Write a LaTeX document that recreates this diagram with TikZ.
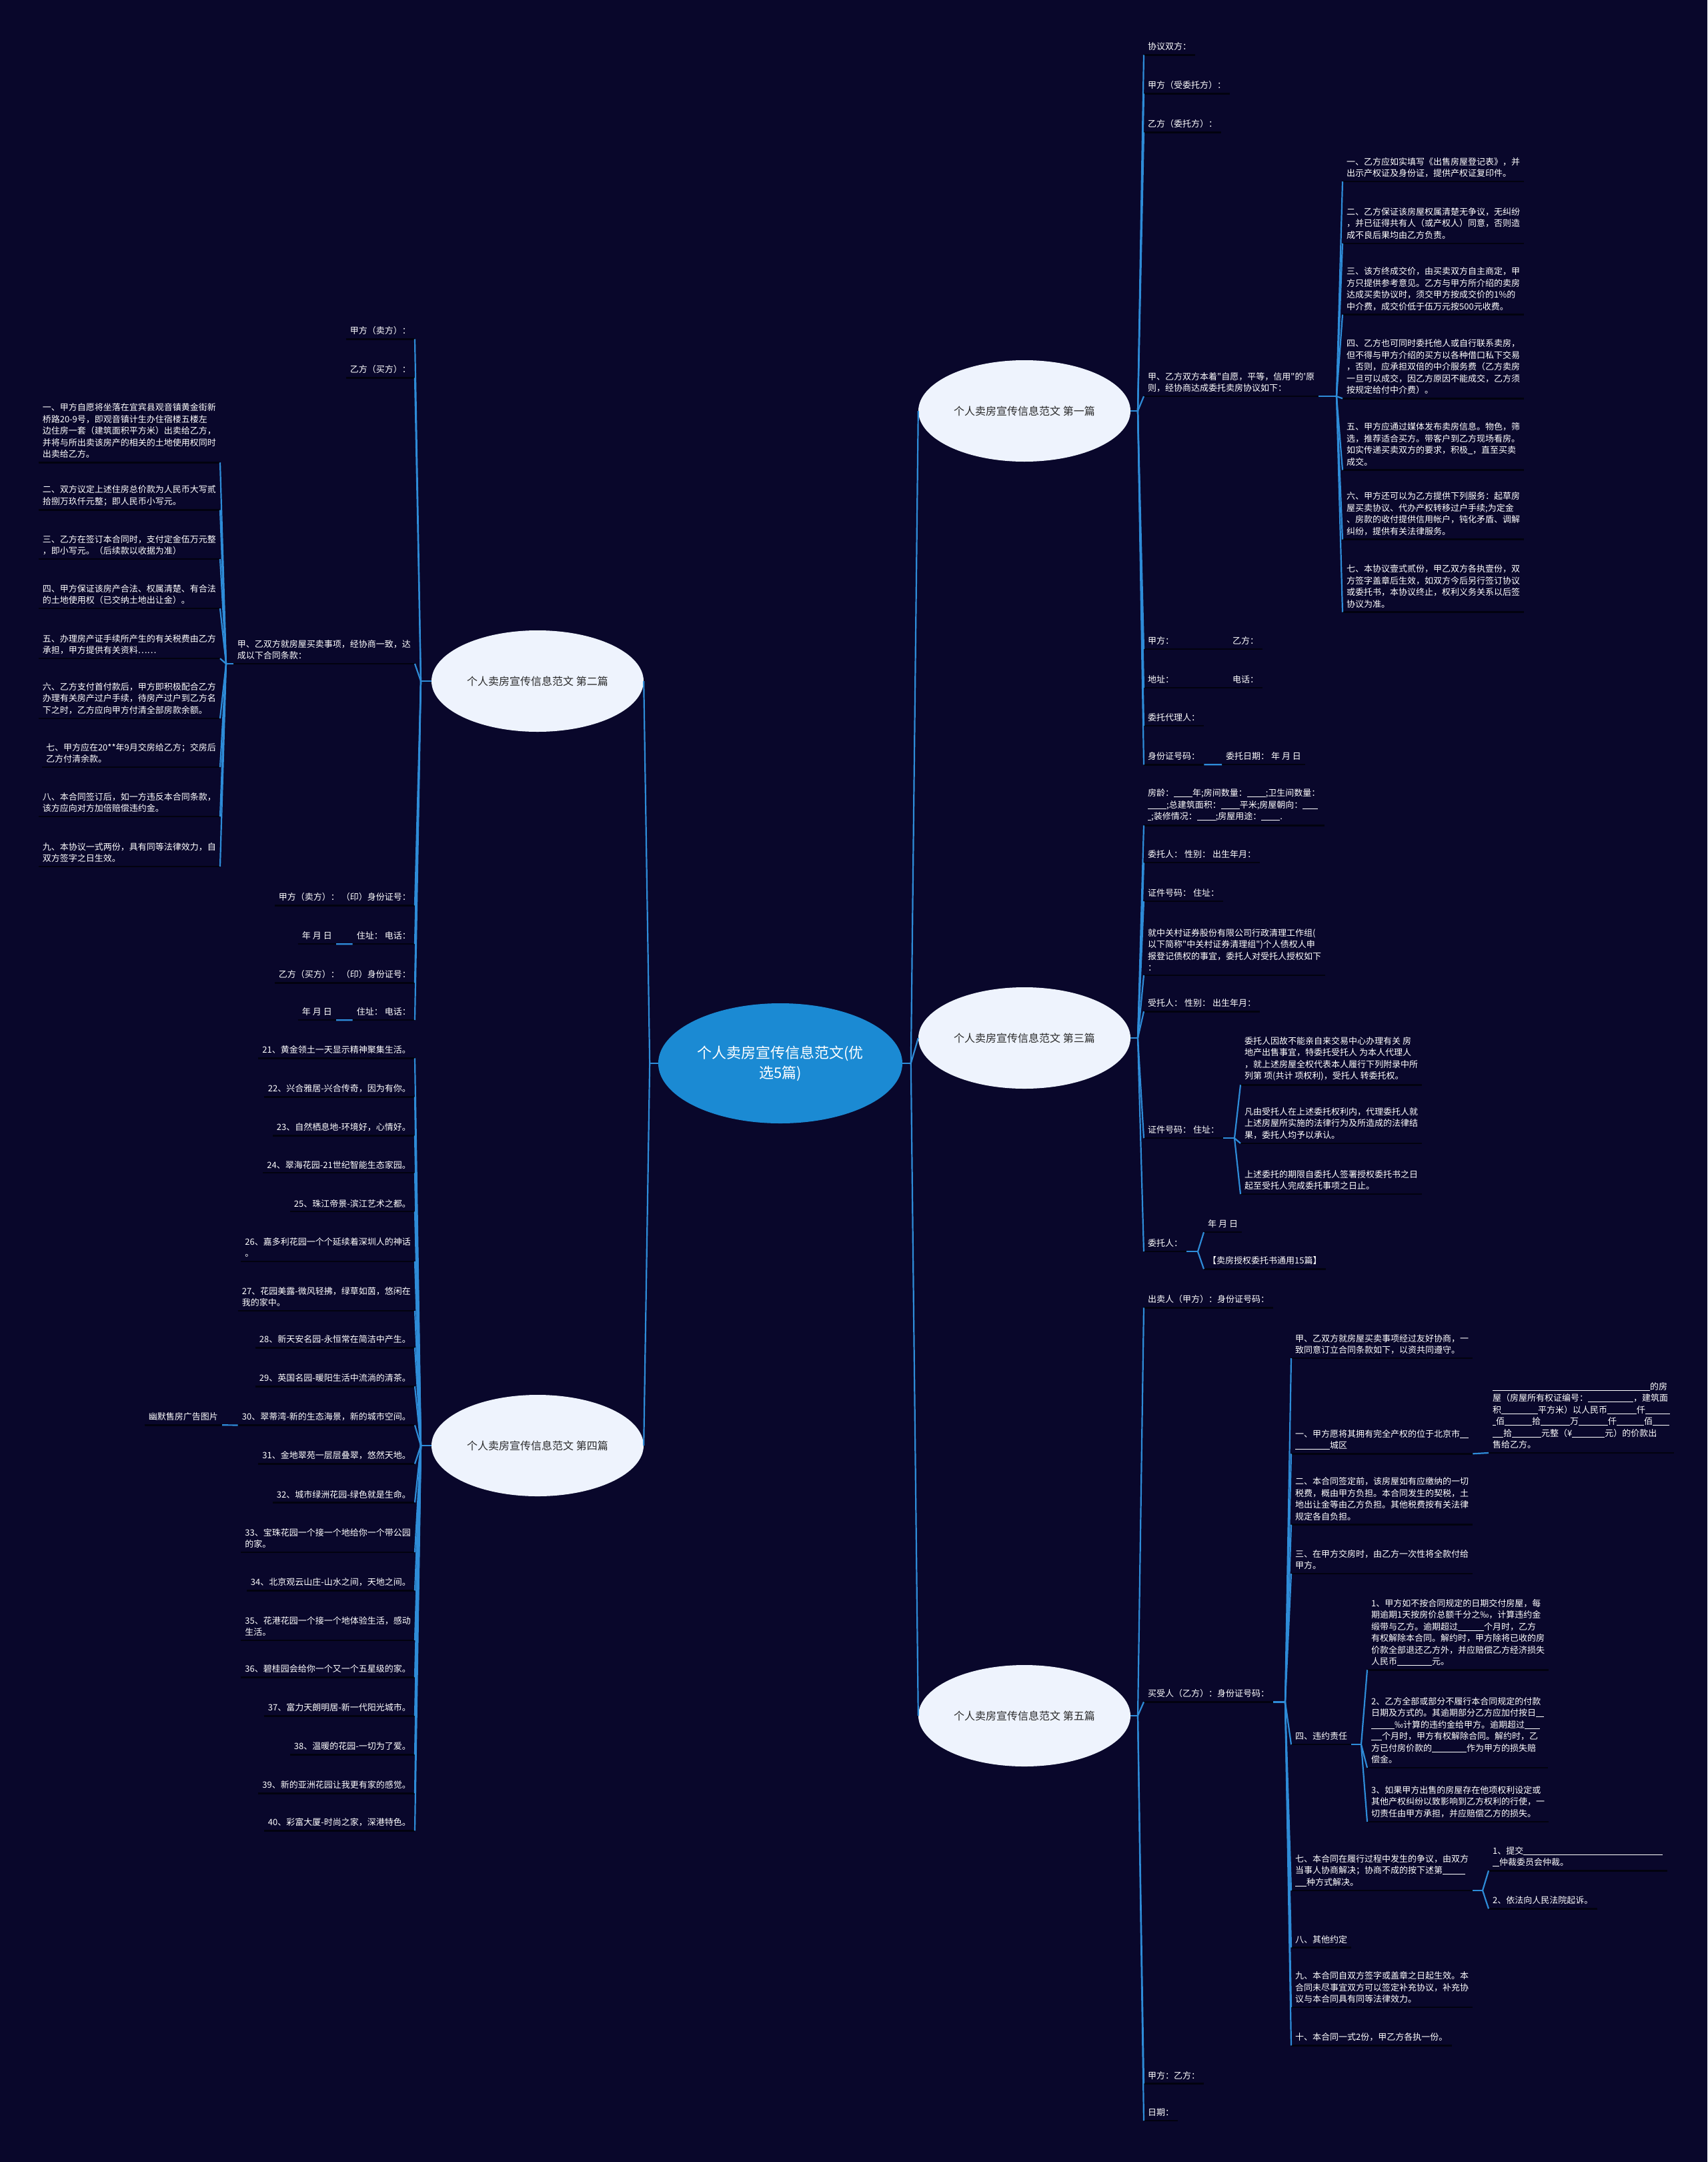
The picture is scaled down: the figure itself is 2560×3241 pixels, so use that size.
\documentclass[tikz,border=0pt]{standalone}
\usepackage{fontspec}
\newfontfamily\cjk{Noto Sans CJK SC}
\usepackage{xcolor}
\usepackage{tikz}
\usetikzlibrary{shapes.geometric,calc}
\definecolor{bgnavy}{HTML}{09072B}
\definecolor{rootblue}{HTML}{1B8AD3}
\definecolor{topicfill}{HTML}{EEF3FD}
\definecolor{topictext}{HTML}{2B2B2B}
\definecolor{linkblue}{HTML}{2E8CD8}
\definecolor{ulinecol}{HTML}{02020F}
\newcommand{\fillin}[1]{\rule[-1.5pt]{#1pt}{0.8pt}}

\begin{document}
\begin{tikzpicture}[x=1pt, y=-1pt,
  rootnode/.style={ellipse, fill=rootblue, text=white, align=center, inner sep=0pt, minimum width=366pt, minimum height=180pt, font=\cjk\fontsize{22}{30}\selectfont},
  topicnode/.style={ellipse, fill=topicfill, text=topictext, inner sep=0pt, minimum width=318pt, minimum height=152pt, font=\cjk\fontsize{16}{20}\selectfont},
  uline/.style={draw=ulinecol, line width=2.5pt},
  leafnode/.style={text=white, align=left, inner xsep=6pt, inner ysep=6pt, font=\cjk\fontsize{13}{17.5}\selectfont,
    append after command={(\tikzlastnode.south west) edge[uline] (\tikzlastnode.south east)}},
  rleaf/.style={leafnode, anchor=west},
  lleaf/.style={leafnode, anchor=east},
  conn/.style={draw=linkblue, line width=2.2pt}
]

\fill[bgnavy] (0,0) rectangle (2560,3241);

\node[rootnode] (root) at (1170,1594) {个人卖房宣传信息范文(优\\选5篇)};

\node[topicnode] (t1) at (1536,616) {个人卖房宣传信息范文 第一篇};
\node[topicnode] (t2) at (806,1021) {个人卖房宣传信息范文 第二篇};
\node[topicnode] (t3) at (1536,1556) {个人卖房宣传信息范文 第三篇};
\node[topicnode] (t4) at (806,2167) {个人卖房宣传信息范文 第四篇};
\node[topicnode] (t5) at (1536,2572) {个人卖房宣传信息范文 第五篇};

\node[rleaf] (t1a) at (1715,70) {协议双方：};
\node[rleaf] (t1b) at (1715,128) {甲方（受委托方）：};
\node[rleaf] (t1c) at (1715,186) {乙方（委托方）：};
\node[rleaf] (t1d) at (1715,573) {甲、乙方双方本着"自愿，平等，信用"的'原\\则，经协商达成委托卖房协议如下：};
\node[rleaf] (t1e) at (1715,961) {甲方：\hspace{88pt}乙方：};
\node[rleaf] (t1f) at (1715,1019) {地址：\hspace{88pt}电话：};
\node[rleaf] (t1g) at (1715,1076) {委托代理人：};
\node[rleaf] (t1h) at (1715,1134) {身份证号码：};
\node[rleaf] (t1h1) at (1832,1134) {委托日期：\ 年\ 月\ 日};

\node[rleaf] (t1d1) at (2013,251) {一、乙方应如实填写《出售房屋登记表》，并\\出示产权证及身份证，提供产权证复印件。};
\node[rleaf] (t1d2) at (2013,335) {二、乙方保证该房屋权属清楚无争议，无纠纷\\，并已征得共有人（或产权人）同意，否则造\\成不良后果均由乙方负责。};
\node[rleaf] (t1d3) at (2013,433) {三、该方终成交价，由买卖双方自主商定，甲\\方只提供参考意见。乙方与甲方所介绍的卖房\\达成买卖协议时，须交甲方按成交价的1\%的\\中介费，成交价低于伍万元按500元收费。};
\node[rleaf] (t1d4) at (2013,550) {四、乙方也可同时委托他人或自行联系卖房，\\但不得与甲方介绍的买方以各种借口私下交易\\，否则，应承担双倍的中介服务费（乙方卖房\\一旦可以成交，因乙方原因不能成交，乙方须\\按规定给付中介费）。};
\node[rleaf] (t1d5) at (2013,666) {五、甲方应通过媒体发布卖房信息。物色，筛\\选，推荐适合买方。带客户到乙方现场看房。\\如实传递买卖双方的要求，积极\fillin{7}，直至买卖\\成交。};
\node[rleaf] (t1d6) at (2013,770) {六、甲方还可以为乙方提供下列服务：起草房\\屋买卖协议、代办产权转移过户手续;为定金\\、房款的收付提供信用帐户，钝化矛盾、调解\\纠纷，提供有关法律服务。};
\node[rleaf] (t1d7) at (2013,879) {七、本协议壹式贰份，甲乙双方各执壹份，双\\方签字盖章后生效，如双方今后另行签订协议\\或委托书，本协议终止，权利义务关系以后签\\协议为准。};

\node[rleaf] (t3a) at (1715,1207) {房龄：\fillin{28}年;房间数量：\fillin{28};卫生间数量：\\\fillin{28};总建筑面积：\fillin{28}平米;房屋朝向：\fillin{23}\\\fillin{5};装修情况：\fillin{28};房屋用途：\fillin{28}.};
\node[rleaf] (t3b) at (1715,1281) {委托人：\ 性别：\ 出生年月：};
\node[rleaf] (t3c) at (1715,1339) {证件号码：\ 住址：};
\node[rleaf] (t3d) at (1715,1424) {就中关村证券股份有限公司行政清理工作组(\\以下简称"中关村证券清理组")个人债权人申\\报登记债权的事宜，委托人对受托人授权如下\\：};
\node[rleaf] (t3e) at (1715,1504) {受托人：\ 性别：\ 出生年月：};
\node[rleaf] (t3f) at (1715,1694) {证件号码：\ 住址：};
\node[rleaf] (t3g) at (1715,1864) {委托人：};

\node[rleaf] (t3f1) at (1860,1587) {委托人因故不能亲自来交易中心办理有关 房\\地产出售事宜，特委托受托人 为本人代理人\\，就上述房屋全权代表本人履行下列附录中所\\列第 项(共计 项权利)，受托人 转委托权。};
\node[rleaf] (t3f2) at (1860,1684) {凡由受托人在上述委托权利内，代理委托人就\\上述房屋所实施的法律行为及所造成的法律结\\果，委托人均予以承认。};
\node[rleaf] (t3f3) at (1860,1769) {上述委托的期限自委托人签署授权委托书之日\\起至受托人完成委托事项之日止。};
\node[rleaf] (t3g1) at (1805,1835) {年\ 月\ 日};
\node[rleaf] (t3g2) at (1805,1890) {【卖房授权委托书通用15篇】};

\node[rleaf] (t5a) at (1715,1948) {出卖人（甲方）：身份证号码：};
\node[rleaf] (t5b) at (1715,2539) {买受人（乙方）：身份证号码：};
\node[rleaf] (t5c) at (1715,3111) {甲方：乙方：};
\node[rleaf] (t5d) at (1715,3167) {日期：};

\node[rleaf] (t5b1) at (1936,2015) {甲、乙双方就房屋买卖事项经过友好协商，一\\致同意订立合同条款如下，以资共同遵守。};
\node[rleaf] (t5b2) at (1936,2158) {一、甲方愿将其拥有完全产权的位于北京市\fillin{13}\\\fillin{52}城区};
\node[rleaf] (t5b2a) at (2232,2122) {\fillin{236}的房\\屋（房屋所有权证编号：\fillin{68}，建筑面\\积\fillin{55}平方米）以人民币\fillin{44}仟\fillin{37}\\\fillin{5}佰\fillin{41}拾\fillin{44}万\fillin{44}仟\fillin{41}佰\fillin{25}\\\fillin{16}拾\fillin{44}元整（¥\fillin{49}元）的价款出\\售给乙方。};
\node[rleaf] (t5b3) at (1936,2247) {二、本合同签定前，该房屋如有应缴纳的一切\\税费，概由甲方负担。本合同发生的契税，土\\地出让金等由乙方负担。其他税费按有关法律\\规定各自负担。};
\node[rleaf] (t5b4) at (1936,2338) {三、在甲方交房时，由乙方一次性将全款付给\\甲方。};
\node[rleaf] (t5b5) at (1936,2603) {四、违约责任};
\node[rleaf] (t5b6) at (1936,2804) {七、本合同在履行过程中发生的争议，由双方\\当事人协商解决；协商不成的按下述第\fillin{34}\\\fillin{17}种方式解决。};
\node[rleaf] (t5b7) at (1936,2907) {八、其他约定};
\node[rleaf] (t5b8) at (1936,2979) {九、本合同自双方签字或盖章之日起生效。本\\合同未尽事宜双方可以签定补充协议，补充协\\议与本合同具有同等法律效力。};
\node[rleaf] (t5b9) at (1936,3054) {十、本合同一式2份，甲乙方各执一份。};

\node[rleaf] (t5b5a) at (2050,2447) {1、甲方如不按合同规定的日期交付房屋，每\\期逾期1天按房价总额千分之‰，计算违约金\\缎带与乙方。逾期超过\fillin{39}个月时，乙方\\有权解除本合同。解约时，甲方除将已收的房\\价款全部退还乙方外，并应赔偿乙方经济损失\\人民币\fillin{52}元。};
\node[rleaf] (t5b5b) at (2050,2594) {2、乙方全部或部分不履行本合同规定的付款\\日期及方式的。其逾期部分乙方应加付按日\fillin{12}\\\fillin{35}‰计算的违约金给甲方。逾期超过\fillin{23}\\\fillin{16}个月时，甲方有权解除合同。解约时，乙\\方已付房价款的\fillin{52}作为甲方的损失赔\\偿金。};
\node[rleaf] (t5b5c) at (2050,2701) {3、如果甲方出售的房屋存在他项权利设定或\\其他产权纠纷以致影响到乙方权利的行使，一\\切责任由甲方承担，并应赔偿乙方的损失。};
\node[rleaf] (t5b6a) at (2232,2783) {1、提交\fillin{209}\\\fillin{10}仲裁委员会仲裁。};
\node[rleaf] (t5b6b) at (2232,2849) {2、依法向人民法院起诉。};

\node[lleaf] (t2a) at (622,496) {甲方（卖方）：};
\node[lleaf] (t2b) at (622,554) {乙方（买方）：};
\node[lleaf] (t2c) at (622,974) {甲、乙双方就房屋买卖事项，经协商一致，达\\成以下合同条款：};
\node[lleaf] (t2d) at (622,1345) {甲方（卖方）：\ （印）身份证号：};
\node[lleaf] (t2e) at (622,1403) {住址：\ 电话：};
\node[lleaf] (t2e1) at (504,1403) {年\ 月\ 日};
\node[lleaf] (t2f) at (622,1461) {乙方（买方）：\ （印）身份证号：};
\node[lleaf] (t2g) at (622,1517) {住址：\ 电话：};
\node[lleaf] (t2g1) at (504,1517) {年\ 月\ 日};

\node[lleaf] (t2c1) at (330,646) {一、甲方自愿将坐落在宜宾县观音镇黄金街新\\桥路20-9号，即观音镇计生办住宿楼五楼左\\边住房一套（建筑面积平方米）出卖给乙方，\\并将与所出卖该房产的相关的土地使用权同时\\出卖给乙方。};
\node[lleaf] (t2c2) at (330,743) {二、双方议定上述住房总价款为人民币大写贰\\拾捌万玖仟元整；即人民币小写元。};
\node[lleaf] (t2c3) at (330,817) {三、乙方在签订本合同时，支付定金伍万元整\\，即小写元。（后续款以收据为准）};
\node[lleaf] (t2c4) at (330,891) {四、甲方保证该房产合法、权属清楚、有合法\\的土地使用权（已交纳土地出让金）。};
\node[lleaf] (t2c5) at (330,966) {五、办理房产证手续所产生的有关税费由乙方\\承担，甲方提供有关资料……};
\node[lleaf] (t2c6) at (330,1047) {六、乙方支付首付款后，甲方即积极配合乙方\\办理有关房产过户手续，待房产过户到乙方名\\下之时，乙方应向甲方付清全部房款余额。};
\node[lleaf] (t2c7) at (330,1129) {七、甲方应在20**年9月交房给乙方；交房后\\乙方付清余款。};
\node[lleaf] (t2c8) at (330,1203) {八、本合同签订后，如一方违反本合同条款，\\该方应向对方加倍赔偿违约金。};
\node[lleaf] (t2c9) at (330,1278) {九、本协议一式两份，具有同等法律效力，自\\双方签字之日生效。};

\node[lleaf] (t4a) at (622,1574) {21、黄金领土一天显示精神聚集生活。};
\node[lleaf] (t4b) at (622,1632) {22、兴合雅居-兴合传奇，因为有你。};
\node[lleaf] (t4c) at (622,1690) {23、自然栖息地-环境好，心情好。};
\node[lleaf] (t4d) at (622,1746) {24、翠海花园-21世纪智能生态家园。};
\node[lleaf] (t4e) at (622,1804) {25、珠江帝景-滨江艺术之都。};
\node[lleaf] (t4f) at (622,1870) {26、嘉多利花园一个个延续着深圳人的神话\\。};
\node[lleaf] (t4g) at (622,1944) {27、花园美露-微风轻拂，绿草如茵，悠闲在\\我的家中。};
\node[lleaf] (t4h) at (622,2008) {28、新天安名园-永恒常在简洁中产生。};
\node[lleaf] (t4i) at (622,2066) {29、英国名园-暖阳生活中流淌的清茶。};
\node[lleaf] (t4j) at (622,2124) {30、翠蒂湾-新的生态海景，新的城市空间。};
\node[lleaf] (t4j1) at (333,2124) {幽默售房广告图片};
\node[lleaf] (t4k) at (622,2182) {31、金地翠苑一层层叠翠，悠然天地。};
\node[lleaf] (t4l) at (622,2240) {32、城市绿洲花园-绿色就是生命。};
\node[lleaf] (t4m) at (622,2306) {33、宝珠花园一个接一个地给你一个带公园\\的家。};
\node[lleaf] (t4n) at (622,2372) {34、北京观云山庄-山水之间，天地之间。};
\node[lleaf] (t4o) at (622,2438) {35、花港花园一个接一个地体验生活，感动\\生活。};
\node[lleaf] (t4p) at (622,2502) {36、碧桂园会给你一个又一个五星级的家。};
\node[lleaf] (t4q) at (622,2560) {37、富力天朗明居-新一代阳光城市。};
\node[lleaf] (t4r) at (622,2618) {38、温暖的花园-一切为了爱。};
\node[lleaf] (t4s) at (622,2676) {39、新的亚洲花园让我更有家的感觉。};
\node[lleaf] (t4t) at (622,2732) {40、彩富大厦-时尚之家，深港特色。};

\coordinate (rj) at ($(t1.west |- root.east)+(-11,0)$);
\coordinate (lj) at ($(t2.east |- root.west)+(9,0)$);
\draw[conn] (root.east) -- (rj);
\draw[conn] (rj) -- (t1.west);
\draw[conn] (rj) -- (t3.west);
\draw[conn] (rj) -- (t5.west);
\draw[conn] (root.west) -- (lj);
\draw[conn] (lj) -- (t2.east);
\draw[conn] (lj) -- (t4.east);

\coordinate (t1j) at ($(t1a.west |- t1.east)+(-9,0)$);
\draw[conn] (t1.east) -- (t1j);
\draw[conn] (t1j) -- (t1a.south west);
\draw[conn] (t1j) -- (t1b.south west);
\draw[conn] (t1j) -- (t1c.south west);
\draw[conn] (t1j) -- (t1d.south west);
\draw[conn] (t1j) -- (t1e.south west);
\draw[conn] (t1j) -- (t1f.south west);
\draw[conn] (t1j) -- (t1g.south west);
\draw[conn] (t1j) -- (t1h.south west);
\draw[conn] (t1h.south east) -- (t1h1.south west);
\coordinate (t1dj) at ($(t1d1.west |- t1d.south east)+(-9,0)$);
\draw[conn] (t1d.south east) -- (t1dj);
\draw[conn] (t1dj) -- (t1d1.south west);
\draw[conn] (t1dj) -- (t1d2.south west);
\draw[conn] (t1dj) -- (t1d3.south west);
\draw[conn] (t1dj) -- (t1d4.south west);
\draw[conn] (t1dj) -- (t1d5.south west);
\draw[conn] (t1dj) -- (t1d6.south west);
\draw[conn] (t1dj) -- (t1d7.south west);

\coordinate (t3j) at ($(t3a.west |- t3.east)+(-9,0)$);
\draw[conn] (t3.east) -- (t3j);
\draw[conn] (t3j) -- (t3a.south west);
\draw[conn] (t3j) -- (t3b.south west);
\draw[conn] (t3j) -- (t3c.south west);
\draw[conn] (t3j) -- (t3d.south west);
\draw[conn] (t3j) -- (t3e.south west);
\draw[conn] (t3j) -- (t3f.south west);
\draw[conn] (t3j) -- (t3g.south west);
\coordinate (t3fj) at ($(t3f1.west |- t3f.south east)+(-9,0)$);
\draw[conn] (t3f.south east) -- (t3fj);
\draw[conn] (t3fj) -- (t3f1.south west);
\draw[conn] (t3fj) -- (t3f2.south west);
\draw[conn] (t3fj) -- (t3f3.south west);
\coordinate (t3gj) at ($(t3g1.west |- t3g.south east)+(-9,0)$);
\draw[conn] (t3g.south east) -- (t3gj);
\draw[conn] (t3gj) -- (t3g1.south west);
\draw[conn] (t3gj) -- (t3g2.south west);

\coordinate (t5j) at ($(t5a.west |- t5.east)+(-9,0)$);
\draw[conn] (t5.east) -- (t5j);
\draw[conn] (t5j) -- (t5a.south west);
\draw[conn] (t5j) -- (t5b.south west);
\draw[conn] (t5j) -- (t5c.south west);
\draw[conn] (t5j) -- (t5d.south west);
\coordinate (t5bj) at ($(t5b1.west |- t5b.south east)+(-9,0)$);
\draw[conn] (t5b.south east) -- (t5bj);
\draw[conn] (t5bj) -- (t5b1.south west);
\draw[conn] (t5bj) -- (t5b2.south west);
\draw[conn] (t5bj) -- (t5b3.south west);
\draw[conn] (t5bj) -- (t5b4.south west);
\draw[conn] (t5bj) -- (t5b5.south west);
\draw[conn] (t5bj) -- (t5b6.south west);
\draw[conn] (t5bj) -- (t5b7.south west);
\draw[conn] (t5bj) -- (t5b8.south west);
\draw[conn] (t5bj) -- (t5b9.south west);
\draw[conn] (t5b2.south east) -- (t5b2a.south west);
\coordinate (t5b5j) at ($(t5b5a.west |- t5b5.south east)+(-9,0)$);
\draw[conn] (t5b5.south east) -- (t5b5j);
\draw[conn] (t5b5j) -- (t5b5a.south west);
\draw[conn] (t5b5j) -- (t5b5b.south west);
\draw[conn] (t5b5j) -- (t5b5c.south west);
\coordinate (t5b6j) at ($(t5b6a.west |- t5b6.south east)+(-9,0)$);
\draw[conn] (t5b6.south east) -- (t5b6j);
\draw[conn] (t5b6j) -- (t5b6a.south west);
\draw[conn] (t5b6j) -- (t5b6b.south west);

\coordinate (t2j) at ($(t2a.east |- t2.west)+(9,0)$);
\draw[conn] (t2.west) -- (t2j);
\draw[conn] (t2j) -- (t2a.south east);
\draw[conn] (t2j) -- (t2b.south east);
\draw[conn] (t2j) -- (t2c.south east);
\draw[conn] (t2j) -- (t2d.south east);
\draw[conn] (t2j) -- (t2e.south east);
\draw[conn] (t2j) -- (t2f.south east);
\draw[conn] (t2j) -- (t2g.south east);
\draw[conn] (t2e.south west) -- (t2e1.south east);
\draw[conn] (t2g.south west) -- (t2g1.south east);
\coordinate (t2cj) at ($(t2c1.east |- t2c.south west)+(9,0)$);
\draw[conn] (t2c.south west) -- (t2cj);
\draw[conn] (t2cj) -- (t2c1.south east);
\draw[conn] (t2cj) -- (t2c2.south east);
\draw[conn] (t2cj) -- (t2c3.south east);
\draw[conn] (t2cj) -- (t2c4.south east);
\draw[conn] (t2cj) -- (t2c5.south east);
\draw[conn] (t2cj) -- (t2c6.south east);
\draw[conn] (t2cj) -- (t2c7.south east);
\draw[conn] (t2cj) -- (t2c8.south east);
\draw[conn] (t2cj) -- (t2c9.south east);

\coordinate (t4j0) at ($(t4a.east |- t4.west)+(9,0)$);
\draw[conn] (t4.west) -- (t4j0);
\draw[conn] (t4j0) -- (t4a.south east);
\draw[conn] (t4j0) -- (t4b.south east);
\draw[conn] (t4j0) -- (t4c.south east);
\draw[conn] (t4j0) -- (t4d.south east);
\draw[conn] (t4j0) -- (t4e.south east);
\draw[conn] (t4j0) -- (t4f.south east);
\draw[conn] (t4j0) -- (t4g.south east);
\draw[conn] (t4j0) -- (t4h.south east);
\draw[conn] (t4j0) -- (t4i.south east);
\draw[conn] (t4j0) -- (t4j.south east);
\draw[conn] (t4j0) -- (t4k.south east);
\draw[conn] (t4j0) -- (t4l.south east);
\draw[conn] (t4j0) -- (t4m.south east);
\draw[conn] (t4j0) -- (t4n.south east);
\draw[conn] (t4j0) -- (t4o.south east);
\draw[conn] (t4j0) -- (t4p.south east);
\draw[conn] (t4j0) -- (t4q.south east);
\draw[conn] (t4j0) -- (t4r.south east);
\draw[conn] (t4j0) -- (t4s.south east);
\draw[conn] (t4j0) -- (t4t.south east);
\draw[conn] (t4j.south west) -- (t4j1.south east);
\end{tikzpicture}
\end{document}
